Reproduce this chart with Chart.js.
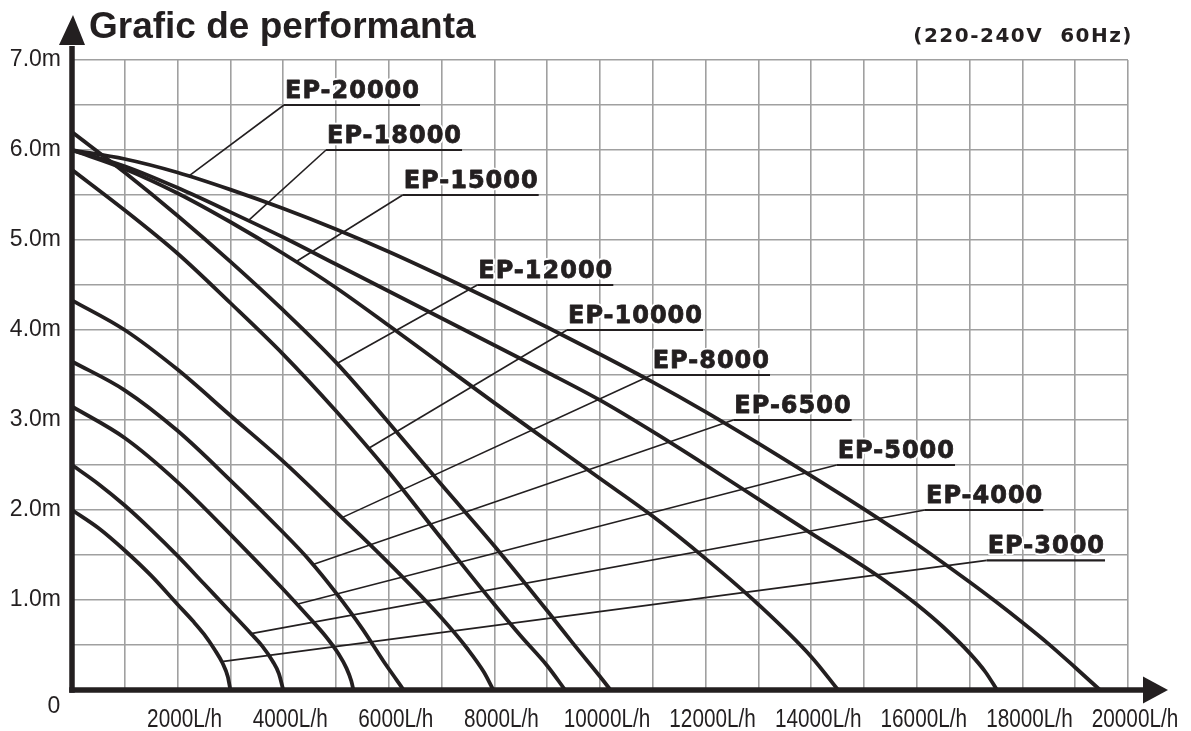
<!DOCTYPE html>
<html>
<head>
<meta charset="utf-8">
<title>Grafic de performanta</title>
<script src="https://cdn.jsdelivr.net/npm/chart.js@4.4.1/dist/chart.umd.min.js"></script>
<style>
  html, body { margin: 0; padding: 0; background: #fff; }
  canvas { display: block; }
</style>
</head>
<body>
<canvas id="grafic" width="1191" height="731"></canvas>
<script>
// modele pompe
var modele = ["EP-3000", "EP-4000", "EP-5000", "EP-6500", "EP-8000", "EP-10000", "EP-12000", "EP-15000", "EP-18000", "EP-20000"];

// debit (L/h) / inaltime (m)
var debit_3000 = [0, 500, 1000, 1500, 2000, 2300, 2500, 2700, 2850, 2950, 3000];
var inalt_3000 = [2.0, 1.8, 1.55, 1.27, 0.95, 0.76, 0.62, 0.45, 0.3, 0.15, 0];

var debit_4000 = [0, 500, 1000, 1500, 2000, 2500, 3000, 3400, 3600, 3800, 3920, 4000];
var inalt_4000 = [2.5, 2.29, 2.05, 1.78, 1.49, 1.18, 0.87, 0.62, 0.49, 0.32, 0.18, 0];

var debit_5000 = [0, 1000, 2000, 3000, 4000, 4500, 4800, 5050, 5200, 5290, 5330];
var inalt_5000 = [3.15, 2.8, 2.31, 1.73, 1.12, 0.8, 0.6, 0.4, 0.24, 0.1, 0];

var debit_6500 = [0, 1000, 2000, 3000, 4000, 4500, 5000, 5500, 5900, 6150, 6280];
var inalt_6500 = [3.65, 3.33, 2.88, 2.33, 1.75, 1.44, 1.08, 0.68, 0.32, 0.11, 0];

var debit_8000 = [0, 1000, 2000, 3000, 4000, 5000, 6000, 7000, 7500, 7800, 7980];
var inalt_8000 = [4.33, 4.0, 3.56, 3.05, 2.54, 1.98, 1.41, 0.8, 0.45, 0.2, 0];

var debit_10000 = [0, 1000, 2000, 3000, 4000, 5000, 6000, 7000, 8000, 8500, 9000, 9340];
var inalt_10000 = [5.78, 5.33, 4.85, 4.30, 3.73, 3.10, 2.42, 1.68, 0.95, 0.6, 0.27, 0];

var debit_12000 = [0, 1000, 2000, 3000, 4000, 5000, 6000, 7000, 8000, 9000, 9500, 10000, 10200];
var inalt_12000 = [6.2, 5.75, 5.27, 4.76, 4.22, 3.64, 2.97, 2.28, 1.6, 0.88, 0.51, 0.15, 0];

var debit_15000 = [0, 1000, 2000, 3000, 4000, 5000, 6000, 7000, 8000, 9000, 10000, 11000, 12000, 13000, 14000, 14510];
var inalt_15000 = [6.0, 5.79, 5.52, 5.20, 4.85, 4.47, 4.05, 3.62, 3.19, 2.77, 2.35, 1.93, 1.46, 0.95, 0.37, 0];

var debit_18000 = [0, 1000, 2000, 3000, 4000, 5000, 6000, 7000, 8000, 9000, 10000, 11000, 12000, 13000, 14000, 15000, 15500, 16000, 16500, 17000, 17300, 17520];
var inalt_18000 = [6.0, 5.82, 5.58, 5.31, 5.03, 4.73, 4.43, 4.13, 3.83, 3.53, 3.22, 2.87, 2.50, 2.12, 1.74, 1.37, 1.17, 0.95, 0.70, 0.41, 0.2, 0];

var debit_20000 = [0, 1000, 2000, 3000, 4000, 5000, 6000, 7000, 8000, 9000, 10000, 11000, 12000, 13000, 14000, 15000, 16000, 17000, 17500, 18000, 18500, 19000, 19470];
var inalt_20000 = [6.0, 5.90, 5.75, 5.56, 5.35, 5.12, 4.87, 4.60, 4.32, 4.03, 3.73, 3.42, 3.09, 2.74, 2.38, 2.01, 1.62, 1.20, 0.98, 0.75, 0.51, 0.25, 0];

var debite = [debit_3000, debit_4000, debit_5000, debit_6500, debit_8000, debit_10000, debit_12000, debit_15000, debit_18000, debit_20000];
var inaltimi = [inalt_3000, inalt_4000, inalt_5000, inalt_6500, inalt_8000, inalt_10000, inalt_12000, inalt_15000, inalt_18000, inalt_20000];

// axa x: etichete din 2000 in 2000
var etichete_x = [2000, 4000, 6000, 8000, 10000, 12000, 14000, 16000, 18000, 20000];

// unde atinge linia de indicatie curba (debit)
var indicator_debit = [2835, 3390, 4261, 4564, 5114, 5612, 5019, 4240, 3340, 2210];
// capatul stang al sublinierii etichetei (debit, inaltime)
var eticheta_debit = [17324, 16155, 14483, 12525, 10979, 9375, 7676, 6263, 4811, 4015];
var eticheta_inalt = [1.44, 2.0, 2.5, 3.0, 3.5, 4.0, 4.5, 5.5, 6.0, 6.5];

var negru = "#231f20";

function interpoleaza(xs, ys, x) {
	for (var k = 1; k < xs.length; k++) {
		if (x <= xs[k]) {
			var t = (x - xs[k - 1]) / (xs[k] - xs[k - 1]);
			return ys[k - 1] + t * (ys[k] - ys[k - 1]);
		}
	}
	return ys[ys.length - 1];
}

var seturi = [];
for (var i = 0; i < modele.length; i++) {
	var puncte = [];
	for (var j = 0; j < debite[i].length; j++) {
		puncte.push({ x: debite[i][j], y: inaltimi[i][j] });
	}
	seturi.push({
		label: modele[i],
		data: puncte,
		showLine: true,
		borderColor: negru,
		borderWidth: 3.8,
		pointRadius: 0,
		fill: false,
		cubicInterpolationMode: "monotone"
	});
}

//************* etichete, axe si titluri **************
var desen = {
	id: "desen",
	afterDatasetsDraw: function (chart) {
		var c = chart.ctx, sx = chart.scales.x, sy = chart.scales.y;
		c.save();
		for (var i = 0; i < modele.length; i++) {
			var ax = sx.getPixelForValue(eticheta_debit[i]);
			var ay = sy.getPixelForValue(eticheta_inalt[i]);
			var lf = indicator_debit[i];
			var px = sx.getPixelForValue(lf);
			var py = sy.getPixelForValue(interpoleaza(debite[i], inaltimi[i], lf));

			c.strokeStyle = negru;
			c.lineWidth = 1.6;
			c.beginPath(); c.moveTo(ax, ay); c.lineTo(px, py); c.stroke();

			c.font = "bold 24px 'DejaVu Sans'";
			c.letterSpacing = "1px";
			var w = c.measureText(modele[i]).width;
			c.lineWidth = 2.2;
			c.beginPath(); c.moveTo(ax, ay); c.lineTo(ax + w + 1, ay); c.stroke();

			c.textAlign = "left";
			c.textBaseline = "alphabetic";
			c.lineJoin = "round";
			c.strokeStyle = "#fff";
			c.lineWidth = 4.5;
			c.strokeText(modele[i], ax + 1, ay - 7);
			c.fillStyle = negru;
			c.fillText(modele[i], ax + 1, ay - 7);
			c.strokeStyle = negru;
			c.lineWidth = 0.8;
			c.strokeText(modele[i], ax + 1, ay - 7);
		}
		c.restore();
	},
	afterDraw: function (chart) {
		var c = chart.ctx, a = chart.chartArea, sx = chart.scales.x, sy = chart.scales.y;
		var x0 = sx.getPixelForValue(0), y0 = sy.getPixelForValue(0);
		c.save();
		c.strokeStyle = negru;
		c.fillStyle = negru;
		c.lineWidth = 5.5;
		c.beginPath(); c.moveTo(x0, y0 + 2.75); c.lineTo(x0, a.top - 14); c.stroke();
		c.beginPath(); c.moveTo(x0 - 2.75, y0); c.lineTo(a.right + 16, y0); c.stroke();
		// sageti
		c.beginPath(); c.moveTo(x0 - 13, a.top - 15); c.lineTo(x0 + 13, a.top - 15); c.lineTo(x0 + 1, a.top - 45); c.closePath(); c.fill();
		c.beginPath(); c.moveTo(a.right + 15, y0 - 13.5); c.lineTo(a.right + 15, y0 + 13.5); c.lineTo(a.right + 40, y0); c.closePath(); c.fill();

		// etichete axa x, litera ingusta
		c.font = "25px 'Liberation Sans'";
		c.textAlign = "center";
		c.textBaseline = "alphabetic";
		for (var k = 0; k < etichete_x.length; k++) {
			var lx = sx.getPixelForValue(etichete_x[k]) + 7;
			c.save();
			c.translate(lx, y0 + 37);
			c.scale(0.83, 1);
			c.fillText(etichete_x[k] + "L/h", 0, 0);
			c.restore();
		}

		c.textAlign = "left";
		c.font = "bold 37px 'Liberation Sans'";
		c.fillText("Grafic de performanta", 89, 38);

		c.font = "bold 20px 'DejaVu Sans'";
		c.letterSpacing = "1.5px";
		c.textAlign = "right";
		c.fillText("(220-240V  60Hz)", 1133, 42);

		c.letterSpacing = "0px";
		c.textAlign = "center";
		c.textBaseline = "middle";
		c.font = "23px 'Liberation Sans'";
		c.fillText("0", x0 - 18, y0 + 17);
		c.restore();
	}
};

new Chart(document.getElementById("grafic"), {
	type: "scatter",
	data: { datasets: seturi },
	options: {
		responsive: false,
		animation: false,
		layout: { padding: { top: 60, right: 63, left: 0, bottom: 0 } },
		plugins: { legend: { display: false }, tooltip: { enabled: false } },
		scales: {
			x: {
				type: "linear",
				min: 0,
				max: 20000,
				afterFit: function (s) { s.height = 41; },
				border: { display: false },
				grid: { color: "#a0a0a0", lineWidth: 1.6, drawTicks: false },
				ticks: {
					stepSize: 1000,
					autoSkip: false,
					maxRotation: 0,
					font: { size: 25 },
					callback: function () { return ""; }
				}
			},
			y: {
				min: 0,
				max: 7,
				afterFit: function (s) { s.width = 72; },
				border: { display: false },
				grid: { color: "#a0a0a0", lineWidth: 1.6, drawTicks: false },
				ticks: {
					stepSize: 0.5,
					padding: 11,
					color: negru,
					font: { family: "'Liberation Sans', Arial", size: 23 },
					callback: function (v) { return (v > 0 && v % 1 === 0) ? v.toFixed(1) + "m" : ""; }
				}
			}
		}
	},
	plugins: [desen]
});
</script>
</body>
</html>
